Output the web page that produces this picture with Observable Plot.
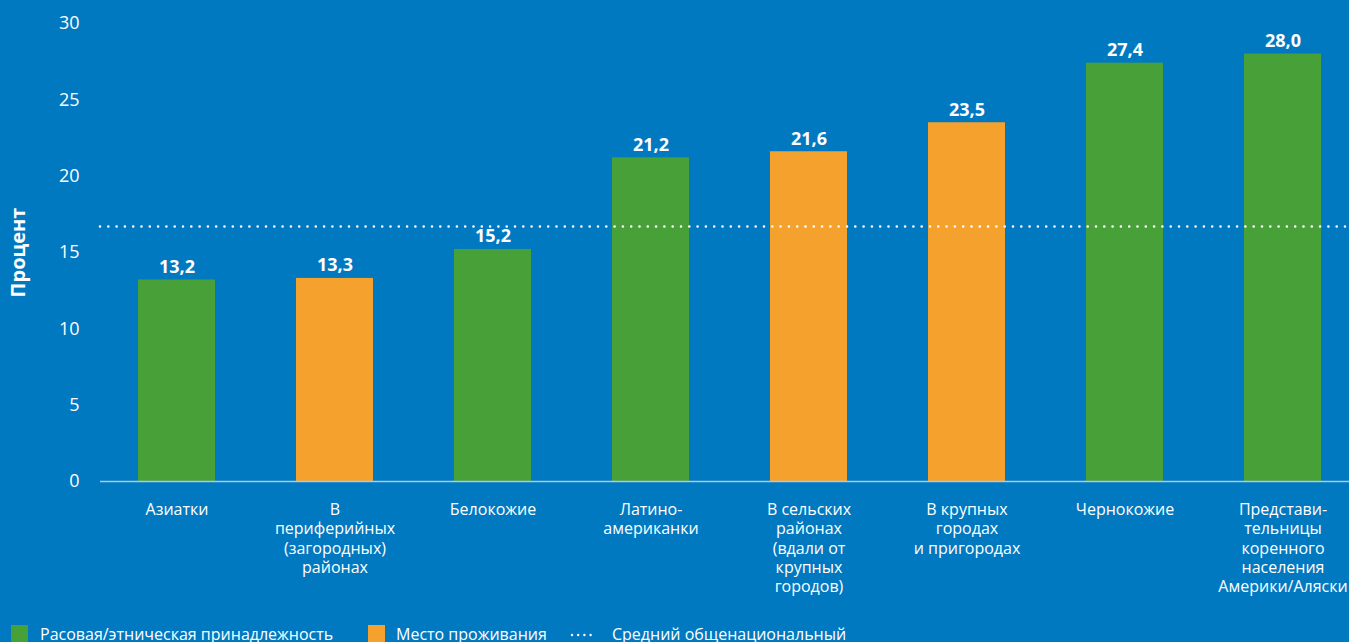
<!DOCTYPE html>
<html>
<head>
<meta charset="utf-8">
<script src="https://cdn.jsdelivr.net/npm/d3@7"></script>
<script src="https://cdn.jsdelivr.net/npm/@observablehq/plot@0.6"></script>
<style>
  html, body { margin: 0; padding: 0; background: #0079c1; overflow: hidden; }
  body { width: 1349px; height: 642px; position: relative; font-family: "Open Sans", sans-serif; color: #fff; }
  #chart svg { display: block; }
  .legend { position: absolute; top: 624px; left: 0; width: 1349px; height: 24px; font-size: 16px; }
  .legend .sw { position: absolute; top: 1px; width: 17px; height: 18px; }
  .legend .lt { position: absolute; top: 0; line-height: 20px; white-space: nowrap; }
  .legend svg { position: absolute; top: 4px; }
</style>
</head>
<body>
<div id="chart"></div>
<div class="legend">
  <div class="sw" style="left:11px;background:#47a038"></div>
  <div class="lt" style="left:40px">Расовая/этническая принадлежность</div>
  <div class="sw" style="left:368px;background:#f4a12e"></div>
  <div class="lt" style="left:396px">Место проживания</div>
  <svg style="left:568px" width="30" height="14"><line x1="4" x2="26" y1="7" y2="7" stroke="#fff" stroke-width="2.4" stroke-linecap="round" stroke-dasharray="0 6.2"/></svg>
  <div class="lt" style="left:612px">Средний общенациональный</div>
</div>
<script>
const categories = [
  "Азиатки",
  "В\nпериферийных\n(загородных)\nрайонах",
  "Белокожие",
  "Латино-\nамериканки",
  "В сельских\nрайонах\n(вдали от\nкрупных\nгородов)",
  "В крупных\nгородах\nи пригородах",
  "Чернокожие",
  "Представи-\nтельницы\nкоренного\nнаселения\nАмерики/Аляски"
];
const values = [13.2, 13.3, 15.2, 21.2, 21.6, 23.5, 27.4, 28.0];
const groups = ["race", "place", "race", "race", "place", "place", "race", "race"];
const valueLabels = ["13,2", "13,3", "15,2", "21,2", "21,6", "23,5", "27,4", "28,0"];
const nationalAverage = 16.7;
const yTicks = [0, 5, 10, 15, 20, 25, 30];
const yLabel = "Процент";

const groupColors = { race: "#47a038", place: "#f4a12e" };
const data = categories.map((c, i) => ({ cat: c, value: values[i], group: groups[i], label: valueLabels[i] }));

const chart = Plot.plot({
  width: 1349,
  height: 612,
  marginLeft: 100,
  marginRight: 0,
  marginTop: 23,
  marginBottom: 131,
  style: { background: "transparent", fontFamily: "'Open Sans', sans-serif", color: "#fff", overflow: "visible" },
  x: { domain: categories, range: [97.5, 1361.5], paddingInner: 0.51, paddingOuter: 0.255, axis: null },
  y: { domain: [0, 30], ticks: yTicks, label: null },
  marks: [
    Plot.axisY({ ticks: yTicks, tickSize: 0, tickPadding: 21, fontSize: 18, fill: "#fff", label: null }),
    Plot.barY(data, { x: "cat", y: "value", fill: d => groupColors[d.group] }),
    Plot.ruleY([0], { stroke: "#a9cbe8", strokeWidth: 1.5 }),
    Plot.ruleY([nationalAverage], { stroke: "#fff", strokeWidth: 2.6, strokeLinecap: "round", strokeDasharray: "0 8.3" }),
    Plot.text(data, { x: "cat", y: "value", text: "label", lineAnchor: "bottom", dy: -7, fill: "#fff", fontSize: 18, fontWeight: "bold" }),
    Plot.text(data, { x: "cat", y: 0, text: "cat", lineAnchor: "top", dy: 20, fill: "#fff", fontSize: 16, lineHeight: 1.2 }),
    Plot.text([yLabel], { frameAnchor: "left", dx: -82, rotate: -90, textAnchor: "middle", fill: "#fff", fontSize: 20, fontWeight: "bold" })
  ]
});
document.getElementById("chart").appendChild(chart);
</script>
</body>
</html>
